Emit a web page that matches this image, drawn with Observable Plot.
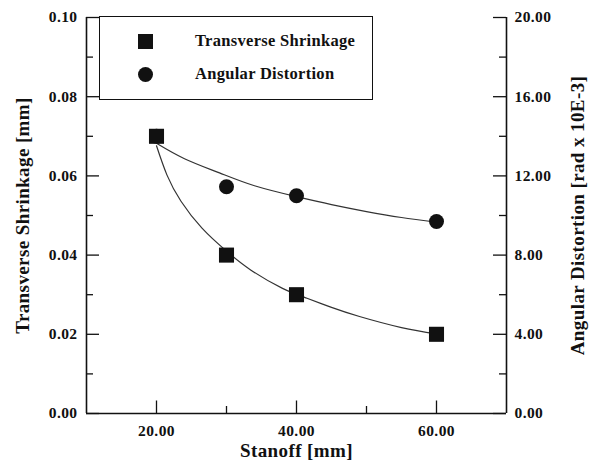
<!DOCTYPE html>
<html><head><meta charset="utf-8">
<script src="https://cdn.jsdelivr.net/npm/d3@7"></script>
<script src="https://cdn.jsdelivr.net/npm/@observablehq/plot@0.6"></script>
<style>
html,body{margin:0;padding:0;background:#fff;}
#wrap{position:relative;width:597px;height:463px;font-family:"Liberation Serif","Times New Roman",serif;font-weight:bold;color:#111;}
#wrap svg{position:absolute;left:0;top:0;}
.lg-box{position:absolute;left:99px;top:16px;width:274px;height:84px;border:1.5px solid #111;box-sizing:border-box;background:#fff;}
.lg-sq{position:absolute;width:15px;height:15px;background:#111;}
.lg-ci{position:absolute;width:15px;height:15px;background:#111;border-radius:50%;}
.lg-tx{position:absolute;font-size:16.5px;line-height:16.5px;white-space:nowrap;letter-spacing:0.3px;}
</style></head>
<body><div id="wrap"></div>
<script>
// measured data
const stanoff = [20, 30, 40, 60];
const shrinkage = [0.07, 0.04, 0.03, 0.02];            // mm (left axis)
const distortion = [14.0, 11.45, 11.0, 9.7];           // rad x 10E-3 (right axis)

// fitted curves
const shrinkFitStanoff = [20, 21.5, 23.5, 26.5, 30, 33.5, 38, 41.5, 45, 49, 55, 60];
const shrinkFit = [0.0676, 0.0602, 0.0536, 0.0468, 0.0410, 0.0362, 0.0316, 0.0291, 0.0268, 0.0245, 0.0217, 0.0201];
const distFitStanoff = [20, 24, 29, 34, 40, 45, 50, 55, 60];
const distFit = [13.65, 12.87, 12.15, 11.50, 10.95, 10.55, 10.20, 9.90, 9.66];

// axes
const xDomain = [10, 70];
const leftDomain = [0, 0.1];
const rightDomain = [0, 20];
const xMajor = [20, 40, 60];
const xMinor = [30, 50];
const leftMajor = [0, 0.02, 0.04, 0.06, 0.08, 0.10];
const leftMinor = [0.01, 0.03, 0.05, 0.07, 0.09];
const rightMajor = [0, 4, 8, 12, 16, 20];
const rightMinor = [2, 6, 10, 14, 18];

const xLabel = "Stanoff [mm]";
const leftLabel = "Transverse Shrinkage [mm]";
const rightLabel = "Angular Distortion [rad x 10E-3]";
const legendItems = ["Transverse Shrinkage", "Angular Distortion"];

const k = leftDomain[1] / rightDomain[1];
const pts = stanoff.map((s, i) => ({s, shr: shrinkage[i], dist: distortion[i] * k}));
const sFit = shrinkFitStanoff.map((s, i) => ({s, v: shrinkFit[i]}));
const dFit = distFitStanoff.map((s, i) => ({s, v: distFit[i] * k}));

const ink = "#111";
const tickFont = 15.5;
const labelFont = 19;
const W = 597, H = 463, mL = 86, mR = 91, mT = 17, mB = 50;
const fw = W - mL - mR, fh = H - mT - mB;
const majorLen = 13, minorLen = 7;

const txt = {fontWeight: "bold", fill: ink, fontSize: tickFont};
const ttl = {fontWeight: "bold", fill: ink, fontSize: labelFont};

const chart = Plot.plot({
  width: W, height: H,
  marginLeft: mL, marginRight: mR, marginTop: mT, marginBottom: mB,
  style: {fontFamily: '"Liberation Serif", "Times New Roman", serif', background: "transparent", color: ink, letterSpacing: "0.4px"},
  x: {domain: xDomain, axis: null},
  y: {domain: leftDomain, axis: null},
  marks: [
    Plot.line(sFit, {x: "s", y: "v", curve: "natural", stroke: "#333", strokeWidth: 1.2}),
    Plot.line(dFit, {x: "s", y: "v", curve: "natural", stroke: "#333", strokeWidth: 1.2}),
    Plot.dot(pts, {x: "s", y: "dist", r: 7.5, fill: ink, stroke: null}),
    Plot.dot(pts, {x: "s", y: "shr", symbol: "square", r: 8.5, fill: ink, stroke: null}),
    // ticks (inward)
    Plot.tickX(xMajor, {x: d => d, insetTop: fh - 12.5, stroke: ink, strokeWidth: 1.3}),
    Plot.tickX(xMinor, {x: d => d, insetTop: fh - minorLen, stroke: ink, strokeWidth: 1.3}),
    Plot.tickY(leftMajor, {y: d => d, insetRight: fw - majorLen, stroke: ink, strokeWidth: 1.3}),
    Plot.tickY(leftMinor, {y: d => d, insetRight: fw - minorLen, stroke: ink, strokeWidth: 1.3}),
    Plot.tickY(rightMajor.map(v => v * k), {y: d => d, insetLeft: fw - majorLen, stroke: ink, strokeWidth: 1.3}),
    Plot.tickY(rightMinor.map(v => v * k), {y: d => d, insetLeft: fw - minorLen, stroke: ink, strokeWidth: 1.3}),
    // axis lines
    Plot.ruleX(xDomain, {stroke: ink, strokeWidth: 1.6}),
    Plot.ruleY([leftDomain[0]], {stroke: ink, strokeWidth: 1.6}),
    // tick labels
    Plot.text(xMajor, {x: d => d, frameAnchor: "bottom", lineAnchor: "middle", dy: 18, text: d => d.toFixed(2), ...txt}),
    Plot.text(leftMajor, {y: d => d, frameAnchor: "left", dx: -9, textAnchor: "end", text: d => d.toFixed(2), ...txt}),
    Plot.text(rightMajor, {y: d => d * k, frameAnchor: "right", dx: 8, textAnchor: "start", text: d => d.toFixed(2), ...txt}),
    // axis titles
    Plot.text([xLabel], {frameAnchor: "bottom", lineAnchor: "middle", dy: 37, ...ttl}),
    Plot.text([leftLabel], {frameAnchor: "left", textAnchor: "middle", lineAnchor: "middle", rotate: -90, dx: -64, ...ttl}),
    Plot.text([rightLabel], {frameAnchor: "right", textAnchor: "middle", lineAnchor: "middle", rotate: -90, dx: 71, ...ttl})
  ]
});

const wrap = document.getElementById("wrap");
wrap.appendChild(chart);

function el(cls, left, top, text) {
  const d = document.createElement("div");
  d.className = cls;
  if (left != null) d.style.left = left + "px";
  if (top != null) d.style.top = top + "px";
  if (text) d.textContent = text;
  wrap.appendChild(d);
  return d;
}
el("lg-box");
el("lg-sq", 137.5, 34.2);
el("lg-ci", 137.5, 66.5);
el("lg-tx", 195, 41 - 8.25, legendItems[0]);
el("lg-tx", 195, 74 - 8.25, legendItems[1]);
</script>
</body></html>
